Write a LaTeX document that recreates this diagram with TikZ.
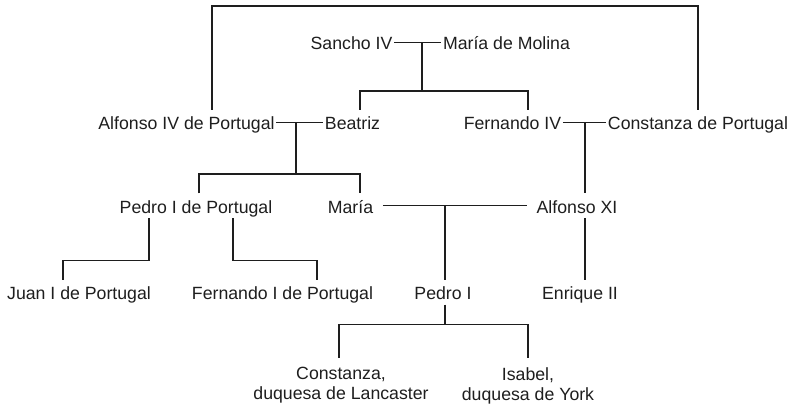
\documentclass[tikz,border=0pt]{standalone}
\usepackage{fontspec}
\setmainfont{Liberation Sans}
\usepackage{tikz}
\definecolor{ink}{HTML}{1E1E1E}

\begin{document}
\begin{tikzpicture}[x=1pt,y=-1pt,line width=1.4pt,color=ink,
  every node/.style={font=\fontsize{17.7pt}{20pt}\selectfont,inner sep=0pt},
  main node/.style={text height=19pt,text depth=4.5pt,anchor=base,inner xsep=1pt},
  leaf node/.style={align=center,anchor=north,inner ysep=9pt}]

  \useasboundingbox (0,0) rectangle (794,413);

  \node[main node] (sancho) at (351.5,49.5) {Sancho IV};
  \node[main node] (molina) at (506.5,49.5) {María de Molina};
  \node[main node] (alfonso) at (186.5,129.5) {Alfonso IV de Portugal};
  \node[main node] (beatriz) at (352.5,129.5) {Beatriz};
  \node[main node] (fernando) at (512.5,129.5) {Fernando IV};
  \node[main node] (constanzap) at (698,129.5) {Constanza de Portugal};
  \node[main node] (pedrop) at (196,213) {Pedro I de Portugal};
  \node[main node] (maria) at (350.5,213) {María};
  \node[main node] (alfonsoxi) at (577,213) {Alfonso XI};
  \node[main node] (juan) at (79,299.5) {Juan I de Portugal};
  \node[main node] (fernandop) at (282.5,299.5) {Fernando I de Portugal};
  \node[main node] (pedro) at (443,299.5) {Pedro I};
  \node[main node] (enrique) at (580,299.5) {Enrique II};
  \node[leaf node] (constanza) at (341,357.5) {Constanza,\\duquesa de Lancaster};
  \node[leaf node] (isabel) at (528,357.5) {Isabel,\\duquesa de York};

  \coordinate (crown) at (455,6);
  \coordinate (sm) at (422,42.25);
  \coordinate (ab) at (296,122.25);
  \coordinate (fc) at (585,122.25);
  \coordinate (ma) at (445,205.75);

  % marriages
  \path (sancho) edge (molina)
        (alfonso) edge (beatriz)
        (fernando) edge (constanzap)
        (maria) edge[shorten <=8pt,shorten >=8pt] (alfonsoxi);
  \draw ([xshift=25.5pt]alfonso.north) |- (crown) -| (constanzap.north);

  % children
  \draw (sm) -- ++(0,48.75) coordinate (smkids);
  \draw ([xshift=7.5pt]beatriz.north) |- (smkids) -| ([xshift=15.5pt]fernando.north);
  \draw (ab) -- ++(0,51.75) coordinate (abkids);
  \draw ([xshift=3pt]pedrop.north) |- (abkids) -| ([xshift=9.5pt]maria.north);
  \draw (fc) -- ([xshift=8pt]alfonsoxi.north);
  \draw (ma) -- ([xshift=2pt]pedro.north);
  \draw ([xshift=8pt]alfonsoxi.south) -- ([xshift=5pt]enrique.north);
  \draw ([xshift=-47pt]pedrop.south) -- ++(0,42.5) -| ([xshift=-16pt]juan.north);
  \draw ([xshift=37pt]pedrop.south) -- ++(0,42.5) -| ([xshift=34.5pt]fernandop.north);
  \draw ([xshift=2pt]pedro.south) -- ++(0,20) coordinate (pkids);
  \draw ([xshift=-2pt]constanza.north) |- (pkids) -| (isabel.north);
\end{tikzpicture}
\end{document}
